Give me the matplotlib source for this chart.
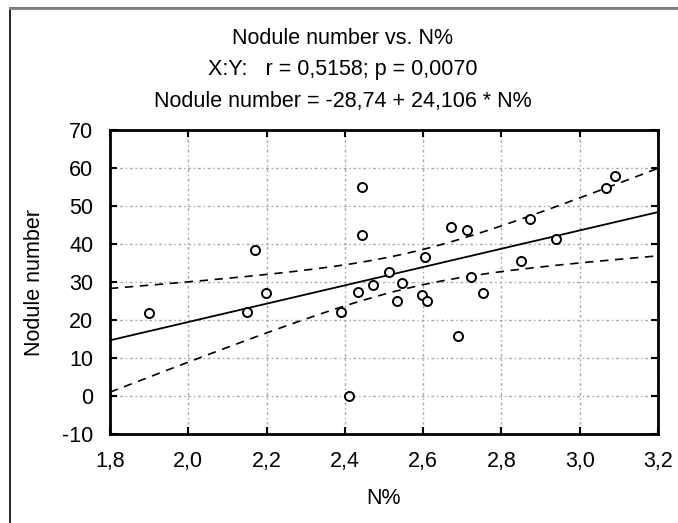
import numpy as np
import matplotlib
matplotlib.use("Agg")
import matplotlib.pyplot as plt
from matplotlib.ticker import FuncFormatter, MultipleLocator
from matplotlib.patches import Rectangle

plt.rcParams['font.family'] = ['Liberation Sans', 'DejaVu Sans']
plt.rcParams['axes.unicode_minus'] = False

# N% and nodule counts per plant
n_pct = [1.90, 2.149, 2.170, 2.198, 2.389, 2.410, 2.433, 2.443, 2.443, 2.471,
         2.512, 2.532, 2.545, 2.596, 2.604, 2.611, 2.672, 2.690, 2.711, 2.723,
         2.754, 2.851, 2.874, 2.940, 3.068, 3.091]
nodules = [21.8, 22.1, 38.4, 27.1, 22.1, 0.0, 27.4, 42.4, 55.0, 29.2,
           32.6, 25.0, 29.7, 26.6, 36.6, 25.0, 44.5, 15.8, 43.7, 31.3,
           27.1, 35.5, 46.6, 41.3, 54.7, 57.9]

intercept = -28.74
slope = 24.106
r_val = 0.5158
p_val = 0.0070
t_crit = 2.0639  # t(0.975, df=24)

x = np.array(n_pct)
y = np.array(nodules)
n = len(x)

xs = np.linspace(1.8, 3.2, 200)
fit = intercept + slope * xs
resid = y - (intercept + slope * x)
s = np.sqrt(np.sum(resid ** 2) / (n - 2))
sxx = np.sum((x - x.mean()) ** 2)
half = t_crit * s * np.sqrt(1.0 / n + (xs - x.mean()) ** 2 / sxx)

FS = 15.5

fig = plt.figure(figsize=(6.78, 5.23), dpi=100)
ax = fig.add_axes([0.1622, 0.1702, 0.8083, 0.5812])

ax.plot(xs, fit, color='black', lw=1.3, zorder=3)
ax.plot(xs, fit + half, color='black', lw=1.2, dashes=(5, 4), zorder=3)
ax.plot(xs, fit - half, color='black', lw=1.2, dashes=(5, 4), zorder=3)
ax.plot(x, y, linestyle='none', marker='o', ms=6.5, mfc='white', mec='black',
        mew=1.4, zorder=4)

ax.set_xlim(1.8, 3.2)
ax.set_ylim(-10, 70)
ax.xaxis.set_major_locator(MultipleLocator(0.2))
ax.yaxis.set_major_locator(MultipleLocator(10))
ax.xaxis.set_major_formatter(FuncFormatter(lambda v, _: f"{v:.1f}".replace('.', ',')))
ax.grid(True, color='#a8a8a8', lw=1.0, dashes=(2, 2, 1, 2))
ax.set_axisbelow(True)

ax.tick_params(direction='in', length=5, width=1.5, top=True, right=True,
               labelsize=FS, pad=12, colors='black')
for sp in ax.spines.values():
    sp.set_linewidth(2)

ax.set_xlabel('N%', fontsize=FS, labelpad=12)
ax.set_ylabel('Nodule number', fontsize=FS, labelpad=12)

cx = 343 / 678
fig.text(cx, 1 - 39 / 523, 'Nodule number vs. N%', ha='center', va='center', fontsize=FS)
fig.text(cx, 1 - 70 / 523,
         f"X:Y:   r = {r_val:.4f}; p = {p_val:.4f}".replace('.', ','),
         ha='center', va='center', fontsize=FS)
fig.text(cx, 1 - 101 / 523,
         f"Nodule number = {intercept:.2f} + {slope:.3f} * N%".replace('.', ','),
         ha='center', va='center', fontsize=FS)

# outer frame of the graph window
fig.add_artist(Rectangle((10 / 678, -0.1), 1.2, 1 - 8 / 523 + 0.1,
                         transform=fig.transFigure, fill=False,
                         edgecolor='black', lw=1.2))
fig.add_artist(plt.Line2D([10 / 678, 1], [1 - 8 / 523, 1 - 8 / 523],
                          transform=fig.transFigure, color='#808080', lw=2))

fig.savefig('out.png', dpi=100)
